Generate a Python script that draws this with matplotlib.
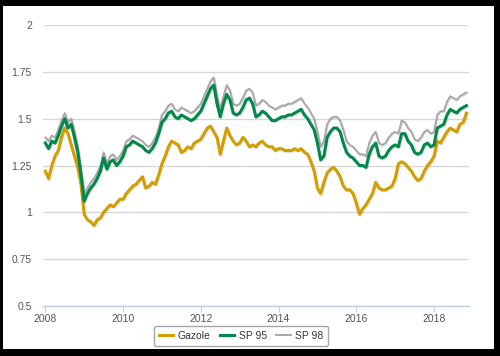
import matplotlib.pyplot as plt
import matplotlib.patheffects as pe
from matplotlib.patches import Rectangle
import numpy as np

# === Data (monthly, Jan 2008 -> Nov 2018) ===
start_year = 2008
gazole = [
    1.22, 1.18, 1.25, 1.30, 1.33, 1.40, 1.45, 1.42, 1.36, 1.30, 1.24, 1.15,
    0.99, 0.96, 0.95, 0.93, 0.96, 0.97, 1.00, 1.02, 1.04, 1.03, 1.05, 1.07,
    1.07, 1.10, 1.12, 1.14, 1.15, 1.17, 1.19, 1.13, 1.14, 1.16, 1.15, 1.20,
    1.26, 1.30, 1.35, 1.38, 1.37, 1.36, 1.32, 1.33, 1.35, 1.34, 1.37, 1.38,
    1.39, 1.42, 1.45, 1.46, 1.43, 1.40, 1.31, 1.38, 1.45, 1.41, 1.38, 1.36,
    1.37, 1.40, 1.38, 1.35, 1.36, 1.35, 1.37, 1.38, 1.36, 1.35, 1.35, 1.33,
    1.34, 1.34, 1.33, 1.33, 1.33, 1.34, 1.33, 1.34, 1.32, 1.31, 1.27, 1.22,
    1.13, 1.10, 1.16, 1.21, 1.23, 1.24, 1.22, 1.19, 1.14, 1.12, 1.12, 1.10,
    1.05, 0.99, 1.02, 1.04, 1.07, 1.10, 1.16, 1.13, 1.12, 1.12, 1.13, 1.14,
    1.18, 1.26, 1.27, 1.26, 1.24, 1.22, 1.19, 1.17, 1.18, 1.22, 1.25, 1.27,
    1.30, 1.38, 1.37, 1.40, 1.43, 1.45, 1.44, 1.43, 1.47, 1.48, 1.53,
]
sp95 = [
    1.37, 1.34, 1.38, 1.37, 1.41, 1.46, 1.50, 1.45, 1.47, 1.40, 1.32, 1.20,
    1.06, 1.10, 1.13, 1.15, 1.18, 1.22, 1.29, 1.23, 1.27, 1.28, 1.25, 1.27,
    1.30, 1.35, 1.36, 1.38, 1.37, 1.36, 1.35, 1.33, 1.32, 1.34, 1.37, 1.42,
    1.48, 1.50, 1.53, 1.54, 1.51, 1.50, 1.52, 1.51, 1.50, 1.49, 1.50, 1.52,
    1.54, 1.58, 1.62, 1.66, 1.68, 1.58, 1.51, 1.58, 1.63, 1.60, 1.53, 1.52,
    1.53, 1.56, 1.60, 1.61, 1.58, 1.51, 1.52, 1.54, 1.53, 1.51, 1.49, 1.49,
    1.50, 1.51, 1.51, 1.52, 1.52, 1.53, 1.54, 1.55, 1.52, 1.50, 1.47, 1.44,
    1.37, 1.28, 1.30, 1.40, 1.43, 1.45, 1.45, 1.43, 1.37, 1.32, 1.30, 1.29,
    1.27, 1.25, 1.25, 1.24, 1.31, 1.35, 1.37, 1.30, 1.29, 1.30, 1.33, 1.35,
    1.36, 1.35, 1.42, 1.42, 1.38, 1.36, 1.32, 1.31, 1.32, 1.36, 1.37, 1.35,
    1.36, 1.45, 1.46, 1.47, 1.52, 1.55, 1.54, 1.53, 1.55, 1.56, 1.57,
]
sp98 = [
    1.40, 1.38, 1.41, 1.40, 1.44, 1.49, 1.53, 1.48, 1.50, 1.43, 1.35, 1.23,
    1.10, 1.13, 1.16, 1.18, 1.21, 1.25, 1.32, 1.26, 1.30, 1.31, 1.28, 1.30,
    1.33, 1.38, 1.39, 1.41, 1.40, 1.39, 1.38, 1.36, 1.35, 1.37, 1.40, 1.45,
    1.52, 1.54, 1.57, 1.58, 1.55, 1.54, 1.56, 1.55, 1.54, 1.53, 1.54, 1.56,
    1.58, 1.62, 1.66, 1.70, 1.72, 1.62, 1.55, 1.62, 1.68, 1.65, 1.58, 1.57,
    1.58, 1.61, 1.65, 1.66, 1.64, 1.57, 1.58, 1.60, 1.59, 1.57, 1.56, 1.55,
    1.56, 1.57, 1.57, 1.58, 1.58, 1.59, 1.60, 1.61, 1.58, 1.56, 1.53, 1.50,
    1.43, 1.35, 1.38, 1.47, 1.50, 1.51, 1.51, 1.49, 1.44, 1.38, 1.36, 1.35,
    1.33, 1.31, 1.31, 1.30, 1.37, 1.41, 1.43, 1.37, 1.36, 1.37, 1.40, 1.42,
    1.43, 1.42, 1.49, 1.48, 1.45, 1.43, 1.39, 1.38, 1.40, 1.43, 1.44, 1.42,
    1.43, 1.52, 1.54, 1.54, 1.59, 1.62, 1.61, 1.60, 1.62, 1.63, 1.64,
]
x_ticks = [2008, 2010, 2012, 2014, 2016, 2018]
y_ticks = [0.5, 0.75, 1, 1.25, 1.5, 1.75, 2]
y_labels = ["0.5", "0.75", "1", "1.25", "1.5", "1.75", "2"]

t = start_year + np.arange(len(gazole)) / 12.0

plt.rcParams['font.family'] = ['Liberation Sans', 'DejaVu Sans']

fig = plt.figure(figsize=(5.0, 3.56), dpi=100)
fig.patch.set_facecolor('black')
fig.patches.append(Rectangle((0.006, 0.0197), 0.982, 0.9635, transform=fig.transFigure,
                             facecolor='white', edgecolor='none', zorder=-10))

ax = fig.add_axes([0.086, 0.1404, 0.852, 0.7893])
ax.set_facecolor('white')
ax.set_zorder(1)

shadow = [pe.SimpleLineShadow(offset=(0.6, -0.6), shadow_color='black', alpha=0.12), pe.Normal()]
ax.plot(t, gazole, color='#D29E00', lw=2.2, label='Gazole', path_effects=shadow, zorder=3)
ax.plot(t, sp95, color='#00894A', lw=2.2, label='SP 95', path_effects=shadow, zorder=4)
ax.plot(t, sp98, color='#A8A8A8', lw=1.4, label='SP 98', path_effects=shadow, zorder=2)

ax.set_xlim(2007.94, 2018.90)
ax.set_ylim(0.5, 2.0)
ax.set_yticks(y_ticks)
ax.set_yticklabels(y_labels)
ax.set_xticks(x_ticks)
ax.set_xticklabels([str(x) for x in x_ticks])

ax.grid(axis='y', color='#D8D8D8', lw=1)
ax.set_axisbelow(True)
for s in ['top', 'right', 'left']:
    ax.spines[s].set_visible(False)
ax.spines['bottom'].set_color('#C0D0E0')
ax.spines['bottom'].set_linewidth(1)
ax.tick_params(axis='y', length=0, pad=8, labelsize=7.5, labelcolor='#555555')
ax.tick_params(axis='x', length=4, color='#C0D0E0', pad=2, labelsize=7.5, labelcolor='#555555')

leg = fig.legend(loc='center', bbox_to_anchor=(0.482, 0.056), ncol=3, fontsize=7.5,
                 handlelength=1.4, handletextpad=0.4, columnspacing=0.9,
                 borderpad=0.45, frameon=True, fancybox=True)
leg.get_frame().set_edgecolor('#909090')
leg.get_frame().set_linewidth(1)
leg.set_zorder(2)
for txt in leg.get_texts():
    txt.set_color('#333344')
for line in leg.get_lines():
    line.set_path_effects([])

plt.savefig("out.png", dpi=100, facecolor=fig.get_facecolor())
